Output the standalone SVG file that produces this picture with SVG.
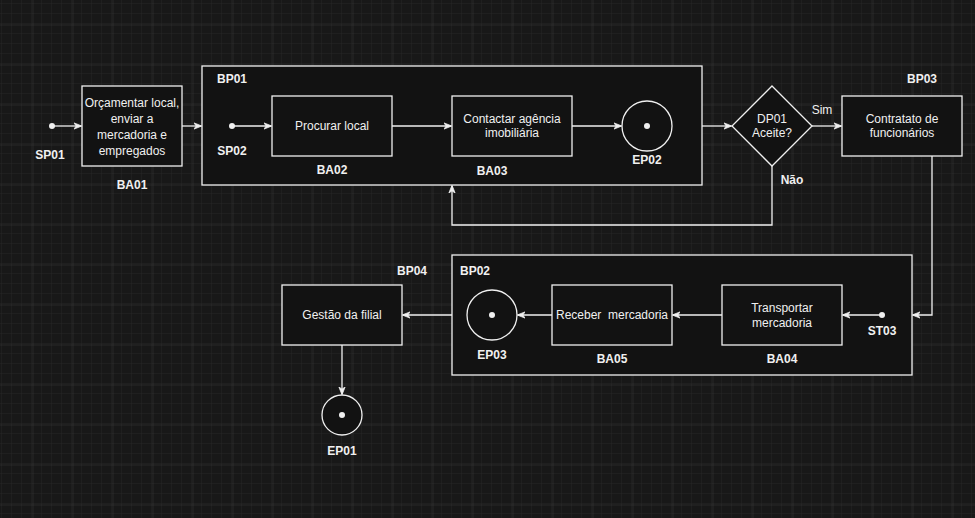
<svg xmlns="http://www.w3.org/2000/svg" width="975" height="518" viewBox="0 0 975 518">
  <defs>
    <pattern id="minor" width="10" height="10" patternUnits="userSpaceOnUse" x="2" y="4">
      <path d="M10 0V10M0 10H10" fill="none" stroke="#262626" stroke-width="1"/>
    </pattern>
    <pattern id="major" width="40" height="40" patternUnits="userSpaceOnUse" x="32.5" y="24.5">
      <path d="M0 0V40M0 0H40" fill="none" stroke="#3a3a3a" stroke-width="1"/>
    </pattern>
    <marker id="arr" viewBox="0 0 10 10" refX="9" refY="5" markerWidth="8" markerHeight="8" orient="auto" markerUnits="userSpaceOnUse">
      <path d="M0 1 L10 5 L0 9 L3 5 Z" fill="#f0f0f0" stroke="#f0f0f0" stroke-width="1"/>
    </marker>
  </defs>
  <style>
    .box { fill: #121212; stroke: #f0f0f0; stroke-width: 1.3; }
    .edge { fill: none; stroke: #f0f0f0; stroke-width: 1.3; marker-end: url(#arr); }
    .line { fill: none; stroke: #f0f0f0; stroke-width: 1.3; }
    .dot { fill: #f0f0f0; }
    text { font-family: "Liberation Sans", Arial, sans-serif; font-size: 12px; fill: #f0f0f0; text-anchor: middle; }
    .id { font-weight: bold; }
  </style>

  <!-- canvas with grid -->
  <rect width="975" height="518" fill="#181818"/>
  <rect width="975" height="518" fill="url(#minor)"/>
  <rect width="975" height="518" fill="url(#major)"/>

  <!-- containers -->
  <g id="BP01">
    <rect class="box" x="202" y="66" width="500" height="119"/>
    <text class="id" x="232" y="83">BP01</text>
  </g>
  <g id="BP02">
    <rect class="box" x="452" y="255" width="460" height="120"/>
    <text class="id" x="475" y="275">BP02</text>
  </g>

  <!-- connectors -->
  <g id="connectors">
    <path class="edge" d="M52 126 H81"/>
    <path class="edge" d="M182 126 H201"/>
    <path class="edge" d="M232 126 H271"/>
    <path class="edge" d="M392 126 H451"/>
    <path class="edge" d="M572 126 H621"/>
    <path class="edge" d="M702 126 H731"/>
    <path class="edge" d="M812 126 H841"/>
    <path class="edge" d="M772 166 V225 H452 V186"/>
    <path class="edge" d="M932 156 V315 H913"/>
    <path class="edge" d="M882 315 H843"/>
    <path class="edge" d="M722 315 H673"/>
    <path class="edge" d="M552 315 H518"/>
    <path class="edge" d="M452 315 H403"/>
    <path class="edge" d="M342 345 V394"/>
    <text x="822" y="114">Sim</text>
    <text class="id" x="792" y="184">Não</text>
  </g>

  <g id="SP01">
    <circle class="dot" cx="52" cy="126" r="3"/>
    <text class="id" x="50" y="159">SP01</text>
  </g>
  <g id="BA01">
    <rect class="box" x="82" y="86" width="100" height="80"/>
    <text x="132" y="107">Orçamentar local,</text>
    <text x="132" y="123">enviar a</text>
    <text x="132" y="139">mercadoria e</text>
    <text x="132" y="155">empregados</text>
    <text class="id" x="132" y="189">BA01</text>
  </g>
  <g id="SP02">
    <circle class="dot" cx="232" cy="126" r="3"/>
    <text class="id" x="232" y="155">SP02</text>
  </g>
  <g id="BA02">
    <rect class="box" x="272" y="96" width="120" height="60"/>
    <text x="332" y="130">Procurar local</text>
    <text class="id" x="332" y="174">BA02</text>
  </g>
  <g id="BA03">
    <rect class="box" x="452" y="96" width="120" height="60"/>
    <text x="512" y="123">Contactar agência</text>
    <text x="512" y="137">imobiliária</text>
    <text class="id" x="492" y="175">BA03</text>
  </g>
  <g id="EP02">
    <circle class="box" cx="647" cy="126" r="25"/>
    <circle class="dot" cx="647" cy="126" r="3"/>
    <text class="id" x="647" y="164">EP02</text>
  </g>
  <g id="DP01">
    <path class="box" d="M772 86 L812 126 L772 166 L732 126 Z"/>
    <text x="772" y="123">DP01</text>
    <text x="772" y="137">Aceite?</text>
  </g>
  <g id="BP03">
    <rect class="box" x="842" y="96" width="120" height="60"/>
    <text x="902" y="123">Contratato de</text>
    <text x="902" y="137">funcionários</text>
    <text class="id" x="922" y="83">BP03</text>
  </g>
  <g id="ST03">
    <circle class="dot" cx="882" cy="315" r="3"/>
    <text class="id" x="882" y="335">ST03</text>
  </g>
  <g id="BA04">
    <rect class="box" x="722" y="285" width="120" height="60"/>
    <text x="782" y="312">Transportar</text>
    <text x="782" y="327">mercadoria</text>
    <text class="id" x="782" y="363">BA04</text>
  </g>
  <g id="BA05">
    <rect class="box" x="552" y="285" width="120" height="60"/>
    <text x="612" y="319" xml:space="preserve">Receber  mercadoria</text>
    <text class="id" x="612" y="363">BA05</text>
  </g>
  <g id="EP03">
    <circle class="box" cx="492" cy="315" r="25"/>
    <circle class="dot" cx="492" cy="315" r="3"/>
    <text class="id" x="492" y="359">EP03</text>
  </g>
  <g id="BP04">
    <rect class="box" x="282" y="285" width="120" height="60"/>
    <text x="342" y="319">Gestão da filial</text>
    <text class="id" x="412" y="275">BP04</text>
  </g>
  <g id="EP01">
    <circle class="box" cx="342" cy="415" r="20"/>
    <circle class="dot" cx="342" cy="415" r="3"/>
    <text class="id" x="342" y="455">EP01</text>
  </g>
</svg>
